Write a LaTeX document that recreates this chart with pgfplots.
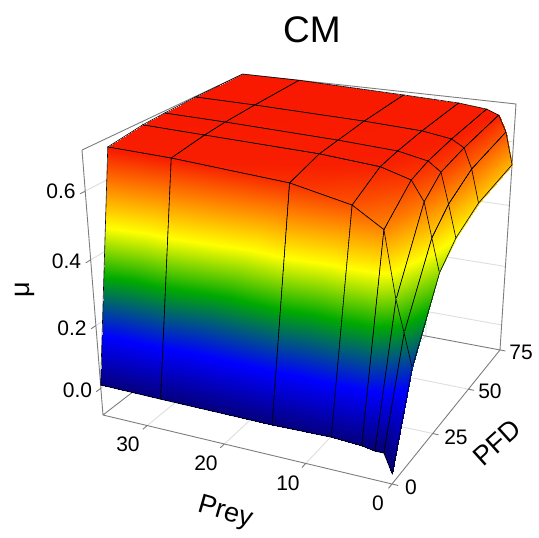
\documentclass[border=0pt]{standalone}
\usepackage{fontspec}
\setmainfont{Liberation Sans}
\usepackage{pgfplots}
\pgfplotsset{compat=1.18}
% perspective view of the box: Prey 0..36, PFD 0..75, mu -0.088..0.715, in picture pixels
\newcommand\UU{(\thisrow{prey}/36)}
\newcommand\VV{(\thisrow{pfd}/75)}
\newcommand\WW{((\thisrow{mu}+0.088)/0.803)}
\newcommand\DD{(1+0.105*\UU+0.2087*\VV-0.098*\WW)}
\pgfplotsset{
  /pgfplots/table/proj/.style={
    x expr={(392-278.2*\UU+212.35*\VV-31.24*\WW)/\DD},
    y expr={538-(484-25.4*\UU-61*\VV-307.5*\WW)/\DD},
  },
}
\definecolor{boxc}{RGB}{125,125,125}
\definecolor{gridc}{RGB}{222,222,222}
\begin{document}
\begin{tikzpicture}[x=1pt,y=1pt]
\useasboundingbox (0,0) rectangle (539,538);
\begin{axis}[
  at={(0,0)},anchor=south west,
  scale only axis,width=539pt,height=538pt,
  xmin=0,xmax=539,ymin=0,ymax=538,
  axis lines=none,clip=false,
  colormap={cm}{rgb255(0pt)=(5,0,115) rgb255(15pt)=(0,0,255) rgb255(25pt)=(0,100,110) rgb255(32pt)=(0,170,0) rgb255(46pt)=(255,255,0) rgb255(58pt)=(255,130,0) rgb255(68pt)=(248,30,0) rgb255(72pt)=(248,24,0)},
  point meta min=0,point meta max=0.72,
]
% grid on floor and walls
\addplot[gridc,line width=0.9pt,empty line=jump] table[proj] {
prey pfd mu
10 0 -0.088
10 75 -0.088
10 75 0.715

20 0 -0.088
20 75 -0.088
20 75 0.715

30 0 -0.088
30 75 -0.088
30 75 0.715

0 25 -0.088
36 25 -0.088
36 25 0.715

0 50 -0.088
36 50 -0.088
36 50 0.715

36 0 0
36 75 0
0 75 0

36 0 0.2
36 75 0.2
0 75 0.2

36 0 0.4
36 75 0.4
0 75 0.4

36 0 0.6
36 75 0.6
0 75 0.6
};
% box
\addplot[boxc,line width=0.9pt,empty line=jump] table[proj] {
prey pfd mu
36 0 0.715
36 0 -0.088
0 0 -0.088
0 75 -0.088
0 75 0.715
36 75 0.715
36 0 0.715

36 0 -0.088
36 75 -0.088
0 75 -0.088

10 0 -0.088
10 -2 -0.088

20 0 -0.088
20 -2 -0.088

30 0 -0.088
30 -2 -0.088

0 0 -0.088
0 -2 -0.088

0 0 -0.088
-0.7 0 -0.088

0 25 -0.088
-0.7 25 -0.088

0 50 -0.088
-0.7 50 -0.088

0 75 -0.088
-0.7 75 -0.088

36 0 0
36 -2 0

36 0 0.2
36 -2 0.2

36 0 0.4
36 -2 0.4

36 0 0.6
36 -2 0.6
};
% surface
\addplot[surf,shader=faceted interp,faceted color=black,line width=0.6pt,mesh/rows=6,mesh/cols=8,mesh/ordering=x varies,point meta=\thisrow{mu}] table[proj] {
prey pfd mu
36 75 0.715
28 75 0.715
14 75 0.705
7 75 0.699
3.5 75 0.690
2 75 0.676
1 75 0.627
0 75 0.529

36 50 0.713
28 50 0.710
14 50 0.701
7 50 0.693
3.5 50 0.680
2 50 0.659
1 50 0.601
0 50 0.504

36 35 0.709
28 35 0.705
14 35 0.694
7 35 0.685
3.5 35 0.668
2 35 0.642
1 35 0.555
0 35 0.461

36 25 0.705
28 25 0.699
14 25 0.689
7 25 0.676
3.5 25 0.651
2 25 0.596
1 25 0.499
0 25 0.403

36 10 0.690
28 10 0.684
14 10 0.662
7 10 0.627
3.5 10 0.574
2 10 0.387
1 10 0.297
0 10 0.201

36 0 0.011
28 0 0.009
14 0 0.008
7 0 0.012
3.5 0 0.007
2 0 0.000
1 0 0.000
0 0 -0.057
};
% texts
\node[font=\fontsize{37}{40}\selectfont] at (axis cs:312,508) {CM};
\tikzset{tl/.style={font=\fontsize{21}{23}\selectfont,text=black}}
\node[tl] at (axis cs:61,347) {0.6};
\node[tl] at (axis cs:66.5,277) {0.4};
\node[tl] at (axis cs:72,210) {0.2};
\node[tl] at (axis cs:77.5,148) {0.0};
\node[tl] at (axis cs:128,94) {30};
\node[tl] at (axis cs:206,75) {20};
\node[tl] at (axis cs:288,55) {10};
\node[tl] at (axis cs:378,35) {0};
\node[tl] at (axis cs:411,51) {0};
\node[tl] at (axis cs:456,101) {25};
\node[tl] at (axis cs:490,147) {50};
\node[tl] at (axis cs:521,186) {75};
\node[font=\fontsize{27}{30}\selectfont,rotate=90] at (axis cs:25,248) {μ};
\node[font=\fontsize{27}{30}\selectfont,rotate=-16] at (axis cs:225,25) {Prey};
\node[font=\fontsize{27}{30}\selectfont,rotate=42] at (axis cs:497,95) {PFD};
\end{axis}
\end{tikzpicture}
\end{document}
